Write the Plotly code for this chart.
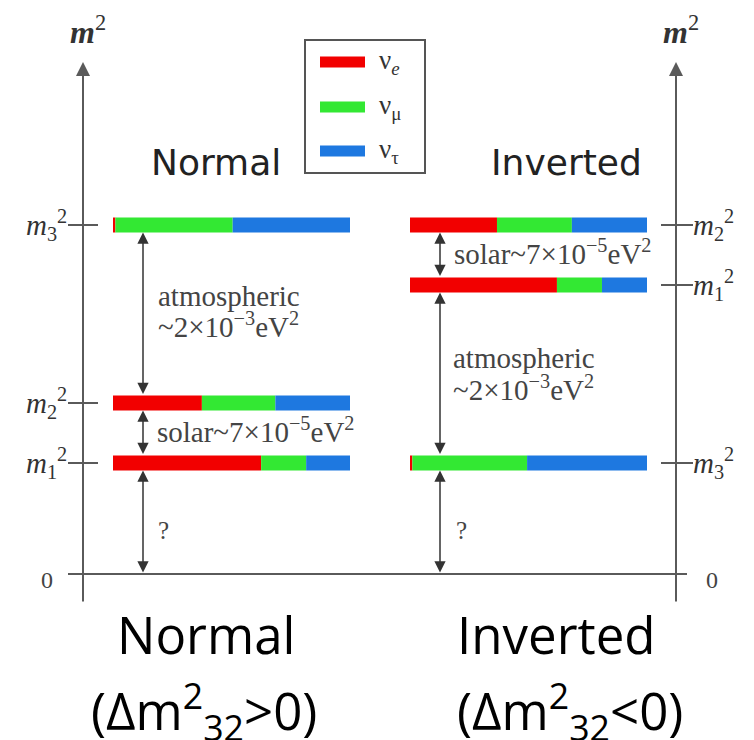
import plotly.graph_objects as go

# ---------------- data ----------------
flavour_names = ["nu_e", "nu_mu", "nu_tau"]
flavour_colors = ["#F20000", "#33E833", "#1E78E0"]
legend_labels = ["ν<sub><i>e</i></sub>", "ν<sub>μ</sub>", "ν<sub>τ</sub>"]

state_labels = ["<i>m</i><sub>1</sub><sup>2</sup>", "<i>m</i><sub>2</sub><sup>2</sup>", "<i>m</i><sub>3</sub><sup>2</sup>"]

# Normal ordering: m1^2, m2^2, m3^2 (arbitrary units) and flavour content
normal_levels = [1.11, 1.71, 3.49]
normal_e = [0.625, 0.375, 0.01]
normal_mu = [0.19, 0.31, 0.495]
normal_tau = [0.185, 0.315, 0.495]

# Inverted ordering: m1^2, m2^2, m3^2
inverted_levels = [2.89, 3.49, 1.11]
inverted_e = [0.62, 0.367, 0.01]
inverted_mu = [0.19, 0.316, 0.484]
inverted_tau = [0.19, 0.317, 0.506]

atm_text = ["atmospheric", "~2×10<sup>−3</sup>eV<sup>2</sup>"]
solar_text = "solar~7×10<sup>−5</sup>eV<sup>2</sup>"
bottom_titles = ["Normal", "Inverted"]
bottom_sub = ["(Δm<sup>2</sup><sub>32</sub>>0)", "(Δm<sup>2</sup><sub>32</sub><0)"]

# ---------------- layout constants ----------------
W, H = 754, 740
PAGE_MARGIN = 8          # default body margin of the html page
ZERO_PX = 574
PX_PER_UNIT = 100.0


def py(p):
    """pixel row (page coordinates) -> data y"""
    return (ZERO_PX - p) / PX_PER_UNIT


BAR_W = 237
BAR_H = 0.15
normal_x0 = 113
inverted_x0 = 410
axis_left_x = 83
axis_right_x = 676
AX_COLOR = "#5a5a5a"
SERIF = "Liberation Serif"

fig = go.Figure()


def add_bars(x0, levels, fr_e, fr_mu, fr_tau):
    fracs = [fr_e, fr_mu, fr_tau]
    cum = [0.0] * len(levels)
    for k in range(3):
        fig.add_trace(go.Bar(
            orientation="h",
            y=levels,
            x=[f * BAR_W for f in fracs[k]],
            base=[x0 + c * BAR_W for c in cum],
            width=BAR_H,
            marker=dict(color=flavour_colors[k], line=dict(width=0)),
            name=flavour_names[k],
            showlegend=False,
            hoverinfo="skip",
        ))
        cum = [c + f for c, f in zip(cum, fracs[k])]


add_bars(normal_x0, normal_levels, normal_e, normal_mu, normal_tau)
add_bars(inverted_x0, inverted_levels, inverted_e, inverted_mu, inverted_tau)

shapes = []
ann = []

# zero line
shapes.append(dict(type="line", xref="x", yref="y", x0=68, x1=687, y0=0, y1=0,
                   line=dict(color=AX_COLOR, width=2)))

# main axes with arrows
for ax_x in (axis_left_x, axis_right_x):
    ann.append(dict(x=ax_x, y=py(62), ax=ax_x, ay=py(603), xref="x", yref="y",
                    axref="x", ayref="y", text="", showarrow=True, arrowhead=2,
                    arrowsize=1.4, arrowwidth=2, arrowcolor=AX_COLOR, standoff=0))

# axis labels m^2 and 0
for cx in (88, 681):
    ann.append(dict(x=cx, y=py(30), text="<i><b>m</b></i><sup>2</sup>", showarrow=False,
                    font=dict(family=SERIF, size=32, color="#333")))
for cx in (47, 712):
    ann.append(dict(x=cx, y=py(580), text="0", showarrow=False,
                    font=dict(family=SERIF, size=24, color="#444")))

# ticks and level labels
lab_font = dict(family=SERIF, size=29, color="#333")
for lev, lab in zip(normal_levels, state_labels):
    shapes.append(dict(type="line", xref="x", yref="y", x0=68, x1=98, y0=lev, y1=lev,
                       line=dict(color=AX_COLOR, width=2)))
    ann.append(dict(x=69, y=lev, xanchor="right", text=lab, showarrow=False, font=lab_font))
for lev, lab in zip(inverted_levels, state_labels):
    shapes.append(dict(type="line", xref="x", yref="y", x0=661, x1=693, y0=lev, y1=lev,
                       line=dict(color=AX_COLOR, width=2)))
    ann.append(dict(x=691, y=lev, xanchor="left", text=lab, showarrow=False, font=lab_font))


# double arrows between levels
def dbl(x, ytop, ybot):
    ann.append(dict(x=x, y=ytop, ax=x, ay=ybot, xref="x", yref="y", axref="x", ayref="y",
                    text="", showarrow=True, arrowside="end+start", arrowhead=2,
                    startarrowhead=2, arrowsize=1.5, startarrowsize=1.5, arrowwidth=1.5,
                    arrowcolor="#333", standoff=0, startstandoff=0))


hb = BAR_H / 2
n1, n2, n3 = normal_levels
dbl(143, n3 - hb, n2 + hb)
dbl(143, n2 - hb, n1 + hb)
dbl(143, n1 - hb, 0)
i1, i2, i3 = inverted_levels
dbl(440, i2 - hb, i1 + hb)
dbl(440, i1 - hb, i3 + hb)
dbl(440, i3 - hb, 0)

# gap texts
gap_font = dict(family=SERIF, size=29, color="#444")
ann.append(dict(x=156, y=py(296), xanchor="left", text=atm_text[0], showarrow=False, font=gap_font))
ann.append(dict(x=156, y=py(325), xanchor="left", text=atm_text[1], showarrow=False, font=gap_font))
ann.append(dict(x=451, y=py(358), xanchor="left", text=atm_text[0], showarrow=False, font=gap_font))
ann.append(dict(x=451, y=py(388), xanchor="left", text=atm_text[1], showarrow=False, font=gap_font))
ann.append(dict(x=155, y=py(430), xanchor="left", text=solar_text, showarrow=False, font=gap_font))
ann.append(dict(x=452, y=py(252), xanchor="left", text=solar_text, showarrow=False, font=gap_font))
for qx in (163, 461):
    ann.append(dict(x=qx, y=py(530), text="?", showarrow=False,
                    font=dict(family=SERIF, size=25, color="#444")))

# scheme titles
title_font = dict(family="DejaVu Sans", size=36, color="#222")
ann.append(dict(x=216, y=py(162), text="Normal", showarrow=False, font=title_font))
ann.append(dict(x=566, y=py(162), text="Inverted", showarrow=False, font=title_font))

# legend box
shapes.append(dict(type="rect", xref="x", yref="y", x0=305, x1=425, y0=py(40), y1=py(173),
                   line=dict(color="#555", width=2), fillcolor="white", layer="below"))
for k, lp in enumerate([62, 107, 151]):
    shapes.append(dict(type="line", xref="x", yref="y", x0=320, x1=365, y0=py(lp), y1=py(lp),
                       line=dict(color=flavour_colors[k], width=11)))
    ann.append(dict(x=377, y=py(lp), xanchor="left", text=legend_labels[k], showarrow=False,
                    font=dict(family=SERIF, size=27, color="#333")))

# bottom captions
bfont = dict(family="Open Sans", size=51, color="black")
ann.append(dict(x=206, y=py(634), text=bottom_titles[0], showarrow=False, font=bfont))
ann.append(dict(x=455, y=py(634), xanchor="left", text=bottom_titles[1], showarrow=False, font=bfont))
ann.append(dict(x=204, y=py(711), text=bottom_sub[0], showarrow=False, font=bfont))
ann.append(dict(x=455, y=py(711), xanchor="left", text=bottom_sub[1], showarrow=False, font=bfont))

fig.update_layout(
    width=W - PAGE_MARGIN, height=H - PAGE_MARGIN,
    margin=dict(l=0, r=0, t=0, b=0),
    paper_bgcolor="white", plot_bgcolor="white",
    barmode="overlay",
    showlegend=False,
    shapes=shapes,
    annotations=ann,
    xaxis=dict(range=[PAGE_MARGIN, W], visible=False, fixedrange=True),
    yaxis=dict(range=[py(H), py(PAGE_MARGIN)], visible=False, fixedrange=True),
)

fig.write_html("out.html")
